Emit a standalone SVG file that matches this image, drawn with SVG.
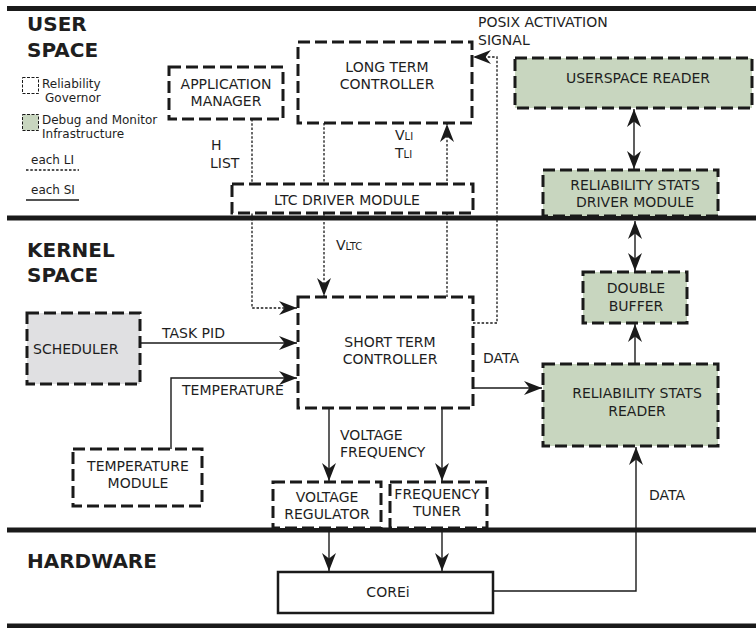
<svg xmlns="http://www.w3.org/2000/svg" width="756" height="628" viewBox="0 0 756 628">
<style>
text{font-family:"DejaVu Sans","Liberation Sans",sans-serif;font-size:14px;fill:#1e1e1e}
.title{font-weight:bold;font-size:20px}
.leg{font-size:12px}
.sub{font-size:10px}
.c{text-anchor:middle}
.box{fill:#fff;stroke:#1a1a1a;stroke-width:3;stroke-dasharray:12 5}
.green{fill:#c8d6bf}
.gray{fill:#e0e0e2}
.solidbox{fill:#fff;stroke:#1a1a1a;stroke-width:2.5}
.bar{stroke:#1a1a1a;stroke-width:5}
.li{fill:none;stroke:#1a1a1a;stroke-width:1.3;stroke-dasharray:2.5 1.8}
.si{fill:none;stroke:#1a1a1a;stroke-width:1.4}
</style>
<defs>
<marker id="ah" viewBox="-19 -9 20 18" refX="0" refY="0" markerWidth="20" markerHeight="18" orient="auto" markerUnits="userSpaceOnUse">
<path d="M0,0 L-18,-7 L-12.5,0 L-18,7 Z" fill="#1a1a1a"/>
</marker>
<marker id="ahs" viewBox="-19 -9 20 18" refX="0" refY="0" markerWidth="20" markerHeight="18" orient="auto-start-reverse" markerUnits="userSpaceOnUse">
<path d="M0,0 L-18,-7 L-12.5,0 L-18,7 Z" fill="#1a1a1a"/>
</marker>
</defs>

<g id="bars">
<line class="bar" x1="7" y1="8.5" x2="756" y2="8.5"/>
<line class="bar" x1="7" y1="218" x2="756" y2="218"/>
<line class="bar" x1="7" y1="530" x2="756" y2="530"/>
<line class="bar" x1="7" y1="626" x2="756" y2="626"/>
</g>

<g id="section-titles">
<text class="title" x="27" y="31">USER</text>
<text class="title" x="27" y="57">SPACE</text>
<text class="title" x="27" y="257">KERNEL</text>
<text class="title" x="27" y="282">SPACE</text>
<text class="title" x="27" y="568">HARDWARE</text>
</g>

<g id="legend">
<rect x="22.5" y="77.5" width="16" height="16" fill="#fff" stroke="#1a1a1a" stroke-width="1" stroke-dasharray="3 1.5"/>
<text class="leg" x="42" y="88">Reliability</text>
<text class="leg" x="45" y="102">Governor</text>
<rect x="22.5" y="114.5" width="16" height="16" fill="#c8d6bf" stroke="#1a1a1a" stroke-width="1" stroke-dasharray="3 1.5"/>
<text class="leg" x="42" y="124">Debug and Monitor</text>
<text class="leg" x="42" y="138">Infrastructure</text>
<text class="leg" x="31" y="164">each LI</text>
<line class="li" x1="26" y1="170" x2="79" y2="170"/>
<text class="leg" x="31" y="194">each SI</text>
<line class="si" x1="26" y1="200" x2="79" y2="200"/>
</g>

<g id="connectors">
<path class="li" d="M252,119 V308 H297" marker-end="url(#ah)"/>
<path class="li" d="M324,123 V296" marker-end="url(#ah)"/>
<path class="li" d="M447,297 V124" marker-end="url(#ah)"/>
<path class="li" d="M473,323 H497 V57 H473" marker-end="url(#ah)"/>
<path class="si" d="M140,343 H297" marker-end="url(#ah)"/>
<path class="si" d="M171,449 V378 H297" marker-end="url(#ah)"/>
<path class="si" d="M329,408 V481" marker-end="url(#ah)"/>
<path class="si" d="M442,408 V481" marker-end="url(#ah)"/>
<path class="si" d="M329,528 V571" marker-end="url(#ah)"/>
<path class="si" d="M442,528 V571" marker-end="url(#ah)"/>
<path class="si" d="M473,388 H542" marker-end="url(#ah)"/>
<path class="si" d="M493,591 H636 V447" marker-end="url(#ah)"/>
<path class="si" d="M635,364 V324" marker-end="url(#ah)"/>
<path class="si" d="M635,271 V221" marker-start="url(#ahs)" marker-end="url(#ahs)"/>
<path class="si" d="M634,109 V169" marker-start="url(#ahs)" marker-end="url(#ahs)"/>
</g>

<g id="connector-labels">
<text x="211" y="150">H</text>
<text x="210" y="168">LIST</text>
<text x="395" y="140">V<tspan class="sub">LI</tspan></text>
<text x="395" y="158">T<tspan class="sub">LI</tspan></text>
<text x="336" y="250">V<tspan class="sub">LTC</tspan></text>
<text x="478" y="27">POSIX ACTIVATION</text>
<text x="478" y="45">SIGNAL</text>
<text x="162" y="338">TASK PID</text>
<text x="182" y="395">TEMPERATURE</text>
<text x="483" y="363">DATA</text>
<text x="340" y="440">VOLTAGE</text>
<text x="340" y="457">FREQUENCY</text>
<text x="649" y="500">DATA</text>
</g>

<g id="application-manager">
<rect class="box" x="169" y="67" width="114" height="52"/>
<text class="c" x="226" y="89">APPLICATION</text>
<text class="c" x="226" y="106">MANAGER</text>
</g>

<g id="long-term-controller">
<rect class="box" x="298" y="42" width="174" height="81"/>
<text class="c" x="387" y="72">LONG TERM</text>
<text class="c" x="387" y="89">CONTROLLER</text>
</g>

<g id="ltc-driver-module">
<rect class="box" x="232" y="184" width="241" height="29" stroke-width="2.5"/>
<text class="c" x="347" y="205">LTC DRIVER MODULE</text>
</g>

<g id="userspace-reader">
<rect class="box green" x="515" y="58" width="237" height="50"/>
<text class="c" x="638" y="83">USERSPACE READER</text>
</g>

<g id="reliability-stats-driver-module">
<rect class="box green" x="543" y="170" width="175" height="46"/>
<text class="c" x="635" y="190">RELIABILITY STATS</text>
<text class="c" x="635" y="207">DRIVER MODULE</text>
</g>

<g id="double-buffer">
<rect class="box green" x="583" y="272" width="104" height="51"/>
<text class="c" x="636" y="293">DOUBLE</text>
<text class="c" x="636" y="311">BUFFER</text>
</g>

<g id="short-term-controller">
<rect class="box" x="298" y="297" width="175" height="111"/>
<text class="c" x="390" y="347">SHORT TERM</text>
<text class="c" x="390" y="364">CONTROLLER</text>
</g>

<g id="reliability-stats-reader">
<rect class="box green" x="543" y="364" width="175" height="82"/>
<text class="c" x="637" y="398">RELIABILITY STATS</text>
<text class="c" x="637" y="416">READER</text>
</g>

<g id="scheduler">
<rect class="box gray" x="27" y="313" width="113" height="71"/>
<text x="33" y="354">SCHEDULER</text>
</g>

<g id="temperature-module">
<rect class="box" x="73" y="449" width="129" height="57"/>
<text class="c" x="138" y="471">TEMPERATURE</text>
<text class="c" x="138" y="488">MODULE</text>
</g>

<g id="voltage-regulator">
<rect class="box" x="273" y="482" width="108" height="46"/>
<text class="c" x="327" y="502">VOLTAGE</text>
<text class="c" x="327" y="519">REGULATOR</text>
</g>

<g id="frequency-tuner">
<rect class="box" x="390" y="482" width="97" height="46"/>
<text class="c" x="437" y="499">FREQUENCY</text>
<text class="c" x="437" y="516">TUNER</text>
</g>

<g id="core">
<rect class="solidbox" x="278" y="572" width="215" height="41"/>
<text class="c" x="388" y="597">COREi</text>
</g>
</svg>
